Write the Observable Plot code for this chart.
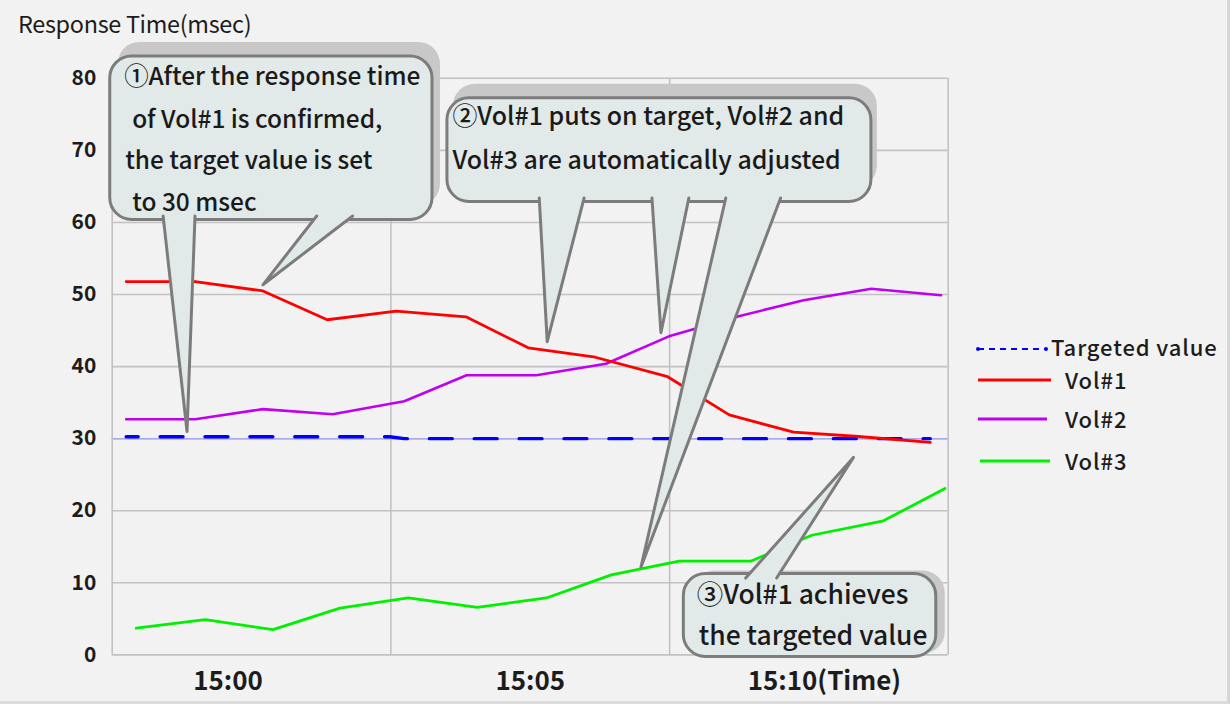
<!DOCTYPE html>
<html>
<head>
<meta charset="utf-8">
<script src="https://cdn.jsdelivr.net/npm/d3@7"></script>
<script src="https://cdn.jsdelivr.net/npm/@observablehq/plot@0.6"></script>
<style>
  html, body { margin: 0; padding: 0; background: #f2f2f2; }
  #wrap { position: relative; width: 1227px; height: 701px; background: #f2f2f2;
          border-right: 3px solid #d6d6d6; border-bottom: 3px solid #dcdcdc; overflow: hidden;
          font-family: "Noto Sans CJK JP", "Noto Sans", sans-serif; color: #1c1c1c; }
  #title { position: absolute; left: 18px; top: 9px; font-size: 23.4px; line-height: 28px; letter-spacing: -0.3px; font-weight: 400; }
  #legend { position: absolute; left: 0; top: 0; }
  .lg { position: absolute; font-size: 22px; line-height: 22px; letter-spacing: 0.9px; white-space: nowrap; font-weight: 500; }
  #chart { position: absolute; left: 0; top: 0; }
</style>
</head>
<body>
<div id="wrap">
  <div id="chart"></div>
  <div id="title">Response Time(msec)</div>
  <div id="legend"></div>
</div>
<script>
// ---------- data ----------
const yTicks = [0, 10, 20, 30, 40, 50, 60, 70, 80];
const xTickLabels = ["15:00", "15:05", "15:10(Time)"];
const xTickPos = [1.52, 6.03, 10.42];       // sample-index positions of the time labels
const xGrid = [-0.2084, 3.95, 8.11, 12.2668];

const vol1X = [0, 1.03, 2.04, 3.0, 4.03, 5.07, 6.0, 7.0, 8.08, 9.0, 9.96, 10.93, 12.0];
const vol1Y = [51.8, 51.8, 50.5, 46.5, 47.7, 46.9, 42.6, 41.3, 38.6, 33.3, 30.9, 30.3, 29.5];

const vol2X = [0, 1.03, 2.04, 3.08, 4.15, 5.08, 6.12, 7.16, 8.1, 9.14, 10.11, 11.12, 12.16];
const vol2Y = [32.7, 32.7, 34.1, 33.4, 35.2, 38.8, 38.8, 40.4, 44.2, 47.0, 49.2, 50.8, 49.9];

const vol3X = [0.15, 1.18, 2.19, 3.19, 4.21, 5.24, 6.27, 7.24, 8.25, 9.32, 10.23, 11.3, 12.22];
const vol3Y = [3.7, 4.9, 3.5, 6.5, 7.9, 6.6, 7.9, 11.1, 13.0, 13.0, 16.6, 18.6, 23.1];

const targetX = [0, 3.93, 4.15, 12.0];
const targetY = [30.27, 30.27, 30.0, 30.0];

const seriesNames = ["Targeted value", "Vol#1", "Vol#2", "Vol#3"];
const seriesColors = ["#0000ff", "#ff0000", "#c000f0", "#00f000"];

// ---------- annotations (data coordinates) ----------
const calloutBoxes = [
  {x1: -0.238, x2: 4.571, y1: 83.04, y2: 60.35},
  {x1: 4.794, x2: 11.121, y1: 77.23, y2: 62.84},
  {x1: 8.322, x2: 12.089, y1: 11.21, y2: -0.28}
];
const calloutShadow = [[8, -14], [6, -14], [9, -3]];
const pointers = [
  {id: "1a", pts: [[0.551, 60.9], [0.908, 31.0], [1.027, 60.9]]},
  {id: "1b", pts: [[2.843, 60.9], [2.040, 51.35], [3.380, 60.9]]},
  {id: "2a", pts: [[6.164, 63.39], [6.283, 43.46], [6.833, 63.39]]},
  {id: "2b", pts: [[7.846, 63.39], [7.980, 44.71], [8.397, 63.39]]},
  {id: "2c", pts: [[8.948, 63.39], [7.682, 12.18], [9.766, 63.39]]},
  {id: "3",  pts: [[9.245, 10.66], [10.853, 27.4], [9.707, 10.66]]}
];
const calloutText = [
  {x: -0.03, y: 80.14, t: "①After the response time", s: 24.5},
  {x: 0.089, y: 74.19, t: "of Vol#1 is confirmed,", s: 24.5},
  {x: -0.015, y: 68.51, t: "the target value is set", s: 24.5},
  {x: 0.089, y: 62.70, t: "to 30 msec", s: 24.5},
  {x: 4.868, y: 74.60, t: "②Vol#1 puts on target, Vol#2 and", s: 25},
  {x: 4.868, y: 68.51, t: "Vol#3 are automatically adjusted", s: 25},
  {x: 8.516, y: 8.17, t: "③Vol#1 achieves", s: 26.5},
  {x: 8.546, y: 2.49, t: "the targeted value", s: 26.5}
];

// ---------- build ----------
const FONT = '"Noto Sans CJK JP", "Noto Sans", sans-serif';
const toRows = (xs, ys) => xs.map((x, i) => ({x, y: ys[i]}));
const vol1 = toRows(vol1X, vol1Y);
const vol2 = toRows(vol2X, vol2Y);
const vol3 = toRows(vol3X, vol3Y);
const target = toRows(targetX, targetY);
const pointerRows = pointers.flatMap(p => p.pts.map(([x, y]) => ({id: p.id, x, y})));

const BOX_FILL = "#e2e9e9", BOX_STROKE = "#7c7c7c", SHADOW = "#c8c8c8";

const marks = [
  Plot.ruleY(yTicks, {stroke: "#c2c2c2", strokeWidth: 1.6}),
  Plot.ruleY([30], {stroke: "#a9a9ee", strokeWidth: 1.6}),
  Plot.ruleX(xGrid, {stroke: "#c2c2c2", strokeWidth: 1.6}),
  Plot.line(target, {x: "x", y: "y", stroke: seriesColors[0], strokeWidth: 3.4, strokeDasharray: "23,22", strokeDashoffset: 11}),
  Plot.line(vol2, {x: "x", y: "y", stroke: seriesColors[2], strokeWidth: 2.6}),
  Plot.line(vol1, {x: "x", y: "y", stroke: seriesColors[1], strokeWidth: 2.8}),
  Plot.line(vol3, {x: "x", y: "y", stroke: seriesColors[3], strokeWidth: 2.8}),
  ...calloutBoxes.map((b, i) => Plot.rect([b], {x1: "x1", x2: "x2", y1: "y1", y2: "y2", rx: 22, fill: SHADOW,
      dx: calloutShadow[i][0], dy: calloutShadow[i][1]})),
  Plot.rect(calloutBoxes, {x1: "x1", x2: "x2", y1: "y1", y2: "y2", rx: 22, fill: BOX_FILL, stroke: BOX_STROKE, strokeWidth: 3}),
  Plot.line(pointerRows, {x: "x", y: "y", z: "id", fill: BOX_FILL, stroke: BOX_STROKE, strokeWidth: 3, strokeLinejoin: "round", curve: "linear"}),
  ...[24.5, 25, 26.5].map(s => Plot.text(calloutText.filter(d => d.s === s), {x: "x", y: "y", text: "t", textAnchor: "start", lineAnchor: "middle", fontSize: s, fontWeight: 500, fill: "#1a1a1a"})),
  Plot.text(yTicks, {y: d => d, frameAnchor: "left", dx: -16, textAnchor: "end", lineAnchor: "middle", text: d => String(d), fontSize: 21, fontWeight: 600, fill: "#1c1c1c"}),
  Plot.text(xTickLabels, {x: (d, i) => xTickPos[i], text: d => d, frameAnchor: "bottom", dy: 27, lineAnchor: "middle", fontSize: 26, fontWeight: 600, fill: "#1c1c1c"})
];

const chart = Plot.plot({
  width: 1230, height: 704,
  marginLeft: 112, marginRight: 280, marginTop: 78, marginBottom: 48,
  x: {domain: [-0.2084, 12.2668], axis: null},
  y: {domain: [0, 80], axis: null},
  style: {background: "transparent", fontFamily: FONT, overflow: "visible"},
  marks
});
document.getElementById("chart").appendChild(chart);

// ---------- legend ----------
const legendLayout = [
  {lx1: 978, lx2: 1046, ly: 349, tx: 1051, ty: 346, dash: true, w: 2},
  {lx1: 978, lx2: 1051, ly: 380, tx: 1065, ty: 379, dash: false, w: 3},
  {lx1: 978, lx2: 1047, ly: 419, tx: 1065, ty: 418, dash: false, w: 3},
  {lx1: 980, lx2: 1050, ly: 461, tx: 1065, ty: 460, dash: false, w: 3.2}
];
const lg = document.getElementById("legend");
const ns = "http://www.w3.org/2000/svg";
const svg = document.createElementNS(ns, "svg");
svg.setAttribute("width", 1230); svg.setAttribute("height", 704);
svg.style.position = "absolute"; svg.style.left = "0"; svg.style.top = "0";
lg.appendChild(svg);
seriesNames.forEach((name, i) => {
  const L = legendLayout[i];
  const ln = document.createElementNS(ns, "line");
  ln.setAttribute("x1", L.lx1); ln.setAttribute("x2", L.lx2);
  ln.setAttribute("y1", L.ly); ln.setAttribute("y2", L.ly);
  ln.setAttribute("stroke", seriesColors[i]); ln.setAttribute("stroke-width", L.w);
  if (L.dash) ln.setAttribute("stroke-dasharray", "6,5");
  svg.appendChild(ln);
  if (L.dash) {
    [L.lx1, L.lx2].forEach(cx => {
      const c = document.createElementNS(ns, "circle");
      c.setAttribute("cx", cx); c.setAttribute("cy", L.ly); c.setAttribute("r", 2);
      c.setAttribute("fill", seriesColors[i]); svg.appendChild(c);
    });
  }
  const d = document.createElement("div");
  d.className = "lg"; d.textContent = name;
  d.style.left = L.tx + "px"; d.style.top = (L.ty - 11) + "px";
  lg.appendChild(d);
});
</script>
</body>
</html>
